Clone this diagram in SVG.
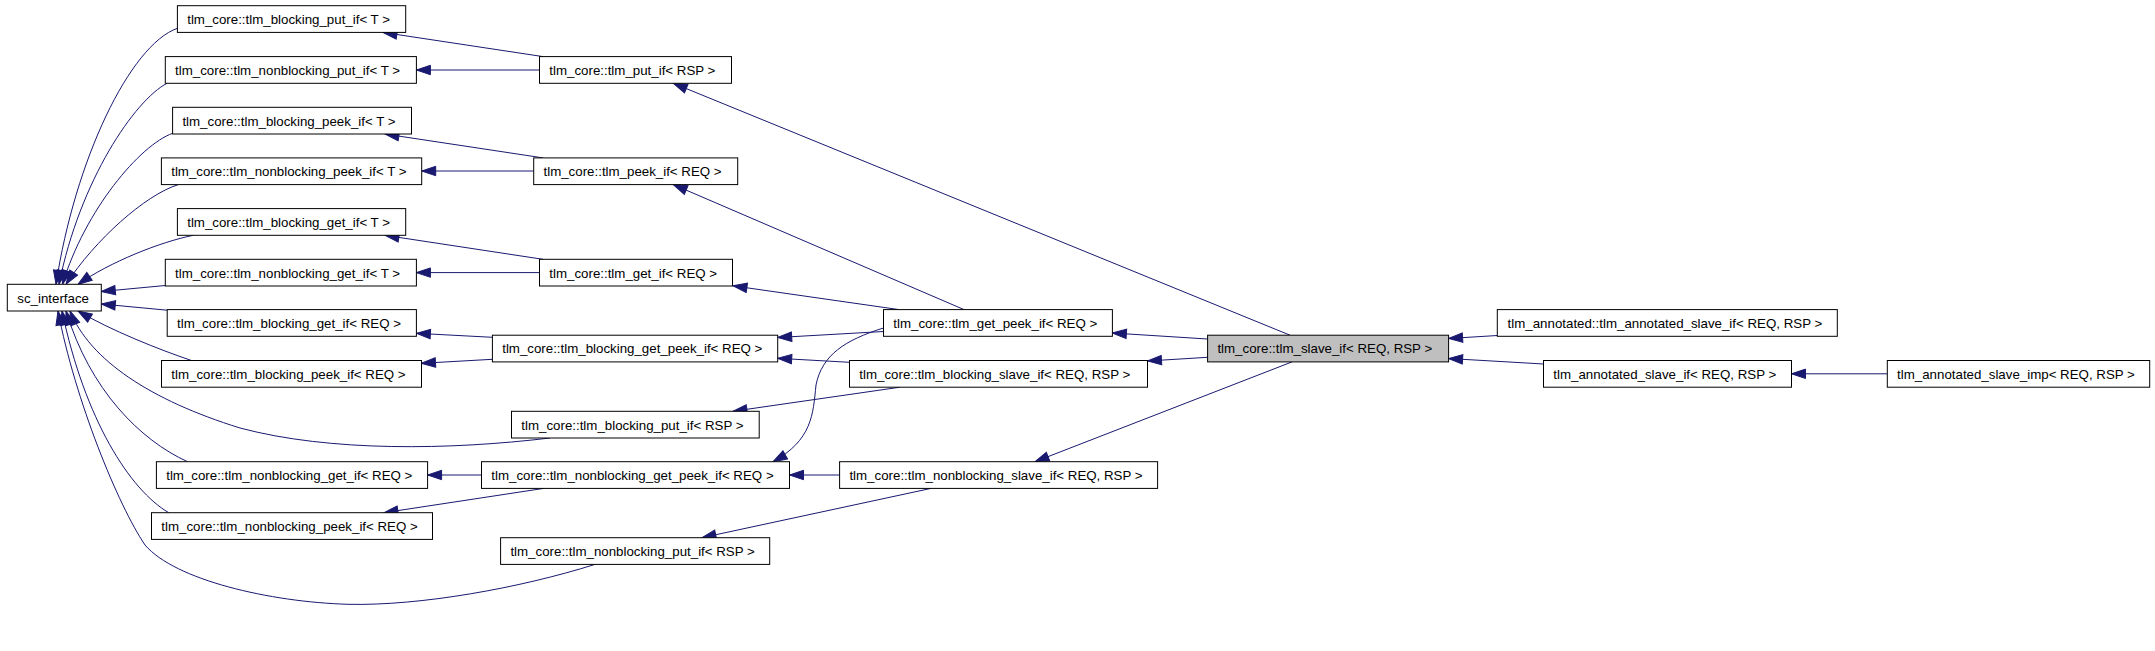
<svg xmlns="http://www.w3.org/2000/svg" width="2155" height="651" viewBox="0 0 2155 651">
<style>
.n rect{fill:#ffffff;stroke:#000000;stroke-width:1}
.n.g rect{fill:#bfbfbf}
.n text{font-family:"Liberation Sans",Arial,sans-serif;font-size:13.3px;fill:#000000}
.e path{fill:none;stroke:#191970;stroke-width:1;marker-end:url(#ah)}
</style>
<defs>
<marker id="ah" markerUnits="userSpaceOnUse" viewBox="-1 -6 16 12" refX="14" refY="0" markerWidth="16" markerHeight="12" orient="auto">
<path d="M0,-4.7 L14,0 L0,4.7 Z" fill="#191970" stroke="#191970" stroke-width="1"/>
</marker>
</defs>
<rect width="2155" height="651" fill="#ffffff"/>
<g class="e" id="edges">
<path d="M543,56.6 L383,32.4"/>
<path d="M539.5,70 L416.4,70"/>
<path d="M543,157.9 L385,134"/>
<path d="M533.7,171 L421.7,171"/>
<path d="M543,259.3 L385,235.3"/>
<path d="M539.5,272.6 L416.4,272.6"/>
<path d="M177.4,28.3 C130,45 75,160 56,284.3"/>
<path d="M167,83.3 C135,100 80,180 59,284.3"/>
<path d="M172.6,133.3 C140,145 85,210 62.5,284.3"/>
<path d="M178.3,184.6 C145,195 95,240 66,284.3"/>
<path d="M193.3,235.3 C160,242 110,262 78,284.3"/>
<path d="M165.3,285.5 L101.3,291.5"/>
<path d="M167.2,310.2 L101.3,304"/>
<path d="M191.5,360.5 C160,350 110,330 78,311"/>
<path d="M550,438 C450,450 330,452 240,428 C150,400 90,360 70,311"/>
<path d="M187.5,461.7 C140,440 90,390 66,311"/>
<path d="M168.7,512.7 C130,490 85,420 62,311"/>
<path d="M595,564.4 C520,588 420,606 348,604.3 C270,602 175,580 145,545 C118,505 75,400 58,311"/>
<path d="M492.4,337.3 L416.4,333.3"/>
<path d="M492.4,359.3 L421.5,363.3"/>
<path d="M899,309.6 L733,285.8"/>
<path d="M964,309.6 L673.3,184.6"/>
<path d="M1290,335.2 L673.3,83.3"/>
<path d="M1207.6,339 L1112.4,333"/>
<path d="M1207.6,357.3 L1147.5,361"/>
<path d="M1292,361.9 L1035,461.7"/>
<path d="M1497.3,335.5 L1448.6,338.5"/>
<path d="M1543.5,364 L1448.6,358.5"/>
<path d="M1887.3,373.8 L1791.5,373.8"/>
<path d="M883.5,331.5 L777.7,337.5"/>
<path d="M883.5,328 C845,340 822,355 816,385 C813,415 812,440 773,461.7"/>
<path d="M849.5,362.3 L777.7,358.3"/>
<path d="M900,387.2 L733,411.3"/>
<path d="M481.5,475 L427.6,475"/>
<path d="M543.7,488.4 L384,512.7"/>
<path d="M839.6,475 L789.5,475"/>
<path d="M931,488.4 L702,537.7"/>
</g>
<g class="n" id="sc_interface"><rect x="7.3" y="284.3" width="94" height="26.7"/><text x="17.3" y="302.5">sc_interface</text></g>
<g class="n" id="blocking_put_if_T"><rect x="177.4" y="5.7" width="228.3" height="26.7"/><text x="187.2" y="23.9">tlm_core::tlm_blocking_put_if&lt; T &gt;</text></g>
<g class="n" id="nonblocking_put_if_T"><rect x="165.3" y="56.6" width="251.1" height="26.7"/><text x="175.1" y="74.8">tlm_core::tlm_nonblocking_put_if&lt; T &gt;</text></g>
<g class="n" id="blocking_peek_if_T"><rect x="172.6" y="107.3" width="238.9" height="26.7"/><text x="182.4" y="125.5">tlm_core::tlm_blocking_peek_if&lt; T &gt;</text></g>
<g class="n" id="nonblocking_peek_if_T"><rect x="161.4" y="157.9" width="260.3" height="26.7"/><text x="171.2" y="176.1">tlm_core::tlm_nonblocking_peek_if&lt; T &gt;</text></g>
<g class="n" id="blocking_get_if_T"><rect x="177.4" y="208.6" width="228.3" height="26.7"/><text x="187.2" y="226.8">tlm_core::tlm_blocking_get_if&lt; T &gt;</text></g>
<g class="n" id="nonblocking_get_if_T"><rect x="165.3" y="259.3" width="251.1" height="26.7"/><text x="175.1" y="277.5">tlm_core::tlm_nonblocking_get_if&lt; T &gt;</text></g>
<g class="n" id="blocking_get_if_REQ"><rect x="167.2" y="309.6" width="249.2" height="26.7"/><text x="177" y="327.8">tlm_core::tlm_blocking_get_if&lt; REQ &gt;</text></g>
<g class="n" id="blocking_peek_if_REQ"><rect x="161.5" y="360.5" width="260" height="26.7"/><text x="171.3" y="378.7">tlm_core::tlm_blocking_peek_if&lt; REQ &gt;</text></g>
<g class="n" id="nonblocking_get_if_REQ"><rect x="156.4" y="461.7" width="271.2" height="26.7"/><text x="166.2" y="479.9">tlm_core::tlm_nonblocking_get_if&lt; REQ &gt;</text></g>
<g class="n" id="nonblocking_peek_if_REQ"><rect x="151.5" y="512.7" width="281" height="26.7"/><text x="161.3" y="530.9">tlm_core::tlm_nonblocking_peek_if&lt; REQ &gt;</text></g>
<g class="n" id="put_if_RSP"><rect x="539.5" y="56.6" width="192" height="26.7"/><text x="549.3" y="74.8">tlm_core::tlm_put_if&lt; RSP &gt;</text></g>
<g class="n" id="peek_if_REQ"><rect x="533.7" y="157.9" width="204" height="26.7"/><text x="543.5" y="176.1">tlm_core::tlm_peek_if&lt; REQ &gt;</text></g>
<g class="n" id="get_if_REQ"><rect x="539.5" y="259.3" width="193" height="26.7"/><text x="549.3" y="277.5">tlm_core::tlm_get_if&lt; REQ &gt;</text></g>
<g class="n" id="blocking_get_peek_if_REQ"><rect x="492.4" y="335.2" width="285.3" height="26.7"/><text x="502.2" y="353.4">tlm_core::tlm_blocking_get_peek_if&lt; REQ &gt;</text></g>
<g class="n" id="blocking_put_if_RSP"><rect x="511.5" y="411.3" width="247.7" height="26.7"/><text x="521.3" y="429.5">tlm_core::tlm_blocking_put_if&lt; RSP &gt;</text></g>
<g class="n" id="nonblocking_get_peek_if_REQ"><rect x="481.5" y="461.7" width="308" height="26.7"/><text x="491.3" y="479.9">tlm_core::tlm_nonblocking_get_peek_if&lt; REQ &gt;</text></g>
<g class="n" id="nonblocking_put_if_RSP"><rect x="500.6" y="537.7" width="269.1" height="26.7"/><text x="510.4" y="555.9">tlm_core::tlm_nonblocking_put_if&lt; RSP &gt;</text></g>
<g class="n" id="get_peek_if_REQ"><rect x="883.5" y="309.6" width="228.9" height="26.7"/><text x="893.3" y="327.8">tlm_core::tlm_get_peek_if&lt; REQ &gt;</text></g>
<g class="n" id="blocking_slave_if"><rect x="849.5" y="360.5" width="298" height="26.7"/><text x="859.3" y="378.7">tlm_core::tlm_blocking_slave_if&lt; REQ, RSP &gt;</text></g>
<g class="n" id="nonblocking_slave_if"><rect x="839.6" y="461.7" width="318" height="26.7"/><text x="849.4" y="479.9">tlm_core::tlm_nonblocking_slave_if&lt; REQ, RSP &gt;</text></g>
<g class="n g" id="slave_if"><rect x="1207.6" y="335.2" width="241" height="26.7"/><text x="1217.4" y="353.4">tlm_core::tlm_slave_if&lt; REQ, RSP &gt;</text></g>
<g class="n" id="annotated_tlm_annotated_slave_if"><rect x="1497.3" y="309.6" width="340" height="26.7"/><text x="1507.6" y="327.8">tlm_annotated::tlm_annotated_slave_if&lt; REQ, RSP &gt;</text></g>
<g class="n" id="tlm_annotated_slave_if"><rect x="1543.5" y="360.5" width="248" height="26.7"/><text x="1553.3" y="378.7">tlm_annotated_slave_if&lt; REQ, RSP &gt;</text></g>
<g class="n" id="tlm_annotated_slave_imp"><rect x="1887.3" y="360.5" width="262.4" height="26.7"/><text x="1897.1" y="378.7">tlm_annotated_slave_imp&lt; REQ, RSP &gt;</text></g>
</svg>
